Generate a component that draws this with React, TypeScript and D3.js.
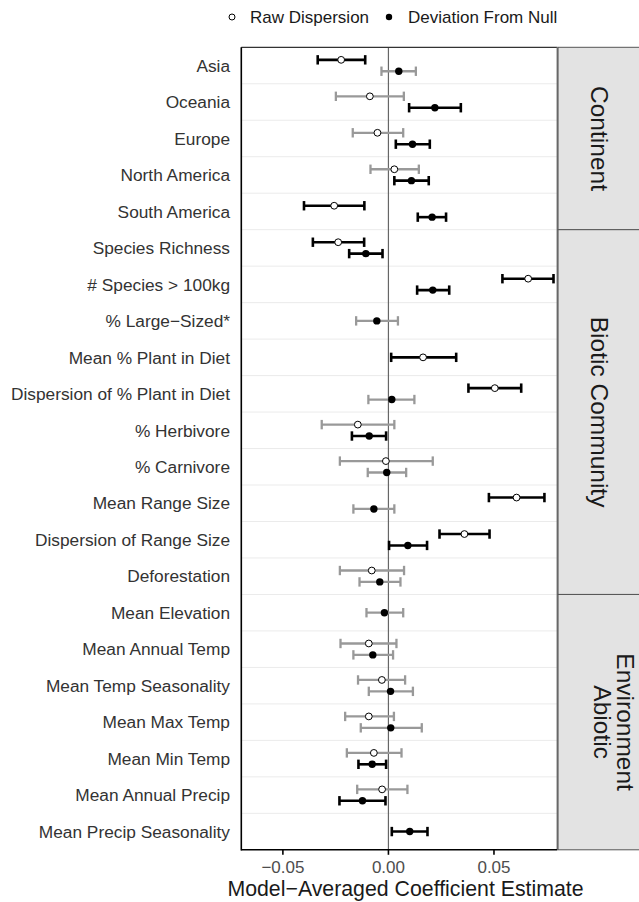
import React from 'react'
import * as d3 from 'd3'

const categories = [
  'Asia', 'Oceania', 'Europe', 'North America', 'South America',
  'Species Richness', '# Species > 100kg', '% Large\u2212Sized*', 'Mean % Plant in Diet',
  'Dispersion of % Plant in Diet', '% Herbivore', '% Carnivore', 'Mean Range Size',
  'Dispersion of Range Size', 'Deforestation',
  'Mean Elevation', 'Mean Annual Temp', 'Mean Temp Seasonality', 'Mean Max Temp',
  'Mean Min Temp', 'Mean Annual Precip', 'Mean Precip Seasonality'
]
const groups = [
  'Continent', 'Continent', 'Continent', 'Continent', 'Continent',
  'Biotic Community', 'Biotic Community', 'Biotic Community', 'Biotic Community',
  'Biotic Community', 'Biotic Community', 'Biotic Community', 'Biotic Community',
  'Biotic Community', 'Biotic Community',
  'Abiotic Environment', 'Abiotic Environment', 'Abiotic Environment', 'Abiotic Environment',
  'Abiotic Environment', 'Abiotic Environment', 'Abiotic Environment'
]
const facetLabels: Record<string, string[]> = {
  'Continent': ['Continent'],
  'Biotic Community': ['Biotic Community'],
  'Abiotic Environment': ['Abiotic', 'Environment']
}

// Raw Dispersion (open points); null = not estimated
const rawEst = [-0.0224, -0.0088, -0.0052, 0.0028, -0.0257, -0.0238, 0.0662, null, 0.0164, 0.0504,
  -0.0145, -0.0012, 0.0607, 0.036, -0.0079, null, -0.0093, -0.0031, -0.0093, -0.0069, -0.003, null]
const rawLo = [-0.0335, -0.0249, -0.0169, -0.0085, -0.040, -0.0358, 0.054, null, 0.0013, 0.0379,
  -0.0316, -0.023, 0.0476, 0.0242, -0.023, null, -0.0227, -0.0144, -0.0205, -0.0197, -0.0148, null]
const rawHi = [-0.011, 0.0073, 0.007, 0.0144, -0.0114, -0.0115, 0.0782, null, 0.0321, 0.0629,
  0.0028, 0.021, 0.0739, 0.0479, 0.0074, null, 0.0038, 0.0079, 0.0026, 0.0062, 0.009, null]

// Deviation From Null (filled points)
const devEst = [0.0049, 0.022, 0.0114, 0.0109, 0.0207, -0.0107, 0.021, -0.0055, null, 0.0016,
  -0.0091, -0.0008, -0.0069, 0.0092, -0.0041, -0.0019, -0.0074, 0.001, 0.0011, -0.0077, -0.0123, 0.0101]
const devLo = [-0.0033, 0.0098, 0.0035, 0.0028, 0.0139, -0.0186, 0.0136, -0.0153, null, -0.0095,
  -0.0173, -0.0098, -0.0166, 0.0003, -0.0137, -0.0104, -0.0166, -0.0093, -0.0131, -0.0142, -0.0232, 0.0016]
const devHi = [0.013, 0.0343, 0.0196, 0.0191, 0.0273, -0.0028, 0.0288, 0.0045, null, 0.0123,
  -0.0011, 0.0084, 0.0028, 0.0183, 0.0057, 0.007, 0.0022, 0.0116, 0.0158, -0.0011, -0.0014, 0.0185]

const xTicks = [-0.05, 0, 0.05]

const W = 639
const H = 902
const left = 241.3
const right = 557.3
const top = 47.3
const bottom = 849.8
const stripRight = 660
const font = '"Liberation Sans", Arial, sans-serif'

type Est = { cat: string, series: 'raw' | 'dev', est: number, lo: number, hi: number, n: number }

const App = () => {
  const x = d3.scaleLinear().domain([-0.0697, 0.08]).range([left, right])
  const y = d3.scaleBand().domain(categories).range([top, bottom]).padding(0)

  const est: Est[] = []
  categories.forEach((c, i) => {
    const n = (rawEst[i] != null ? 1 : 0) + (devEst[i] != null ? 1 : 0)
    if (rawEst[i] != null) est.push({ cat: c, series: 'raw', est: rawEst[i] as number, lo: rawLo[i] as number, hi: rawHi[i] as number, n })
    if (devEst[i] != null) est.push({ cat: c, series: 'dev', est: devEst[i] as number, lo: devLo[i] as number, hi: devHi[i] as number, n })
  })
  const dodge = d3.scalePoint().domain(['raw', 'dev']).range([-5.7, 5.7])
  const yOf = (d: Est) => (y(d.cat) as number) + y.bandwidth() / 2 + (d.n > 1 ? (dodge(d.series) as number) : 0)
  const signif = (d: Est) => d.lo > 0 || d.hi < 0

  // facet extents
  const facets = Array.from(new Set(groups)).map(g => {
    const cats = categories.filter((_, i) => groups[i] === g)
    const y0 = y(cats[0]) as number
    const y1 = (y(cats[cats.length - 1]) as number) + y.bandwidth()
    return { g, y0, y1 }
  })

  return (
    <svg width={W} height={H} style={{ position: 'absolute', left: 0, top: 0 }} fontFamily={font}>
      <rect width={W} height={H} fill='#fff' />
      {/* legend */}
      <g>
        <circle cx={232} cy={17} r={3} fill='#fff' stroke='#000' strokeWidth={1} />
        <text x={250} y={23} fontSize={17} fill='#1a1a1a'>Raw Dispersion</text>
        <circle cx={389} cy={17} r={3.2} fill='#000' />
        <text x={408} y={23} fontSize={17} fill='#1a1a1a'>Deviation From Null</text>
      </g>

      {/* grid lines between rows */}
      {categories.slice(1).map(c => (
        <line key={c} x1={left} x2={right} y1={y(c)} y2={y(c)} stroke='#ebebeb' strokeWidth={1} />
      ))}
      {/* zero line */}
      <line x1={x(0)} x2={x(0)} y1={top} y2={bottom} stroke='#666' strokeWidth={1.2} />

      {/* error bars */}
      {est.map((d, i) => {
        const cy = yOf(d)
        const col = signif(d) ? '#000' : '#999'
        const sw = signif(d) ? 2.6 : 2.3
        return (
          <g key={i} stroke={col} strokeWidth={sw}>
            <line x1={x(d.lo)} x2={x(d.hi)} y1={cy} y2={cy} />
            <line x1={x(d.lo)} x2={x(d.lo)} y1={cy - 4.7} y2={cy + 4.7} />
            <line x1={x(d.hi)} x2={x(d.hi)} y1={cy - 4.7} y2={cy + 4.7} />
          </g>
        )
      })}
      {/* points */}
      {est.map((d, i) => (
        d.series === 'raw'
          ? <circle key={i} cx={x(d.est)} cy={yOf(d)} r={3.4} fill='#fff' stroke='#000' strokeWidth={1} />
          : <circle key={i} cx={x(d.est)} cy={yOf(d)} r={3.7} fill='#000' />
      ))}

      {/* panel border */}
      <line x1={left} x2={right} y1={top} y2={top} stroke='#333' strokeWidth={1.3} />
      <line x1={right} x2={right} y1={top} y2={bottom} stroke='#777' strokeWidth={1.5} />
      <line x1={left} x2={left} y1={top} y2={bottom + 0.8} stroke='#000' strokeWidth={1.6} />
      <line x1={left} x2={right} y1={bottom} y2={bottom} stroke='#000' strokeWidth={1.6} />

      {/* strips */}
      {facets.map(f => {
        const lines = facetLabels[f.g]
        const cy = (f.y0 + f.y1) / 2
        const cx = lines.length > 1 ? 614.5 : 600
        return (
          <g key={f.g}>
            <rect x={right + 0.75} y={f.y0} width={stripRight - right} height={f.y1 - f.y0} fill='#e3e3e3' stroke='#555' strokeWidth={1} />
            {lines.map((t, j) => (
              <text key={t} transform={`translate(${cx + (j - (lines.length - 1) / 2) * 23},${cy}) rotate(90)`}
                textAnchor='middle' dy='0.35em' fontSize={24.5} fill='#1a1a1a'>{t}</text>
            ))}
          </g>
        )
      })}

      {/* y labels */}
      {categories.map(c => (
        <text key={c} x={230} y={(y(c) as number) + y.bandwidth() / 2} dy='0.36em' textAnchor='end' fontSize={17.3} fill='#333'>{c}</text>
      ))}

      {/* x axis */}
      {xTicks.map(t => (
        <g key={t}>
          <line x1={x(t)} x2={x(t)} y1={bottom} y2={bottom + 5} stroke='#000' strokeWidth={1.6} />
          <text x={x(t)} y={873} textAnchor='middle' fontSize={17} fill='#4d4d4d'>{d3.format('.2f')(t)}</text>
        </g>
      ))}
      <text x={405.5} y={896} textAnchor='middle' fontSize={21.3} fill='#1a1a1a'>Model{'\u2212'}Averaged Coefficient Estimate</text>
    </svg>
  )
}

export default App
